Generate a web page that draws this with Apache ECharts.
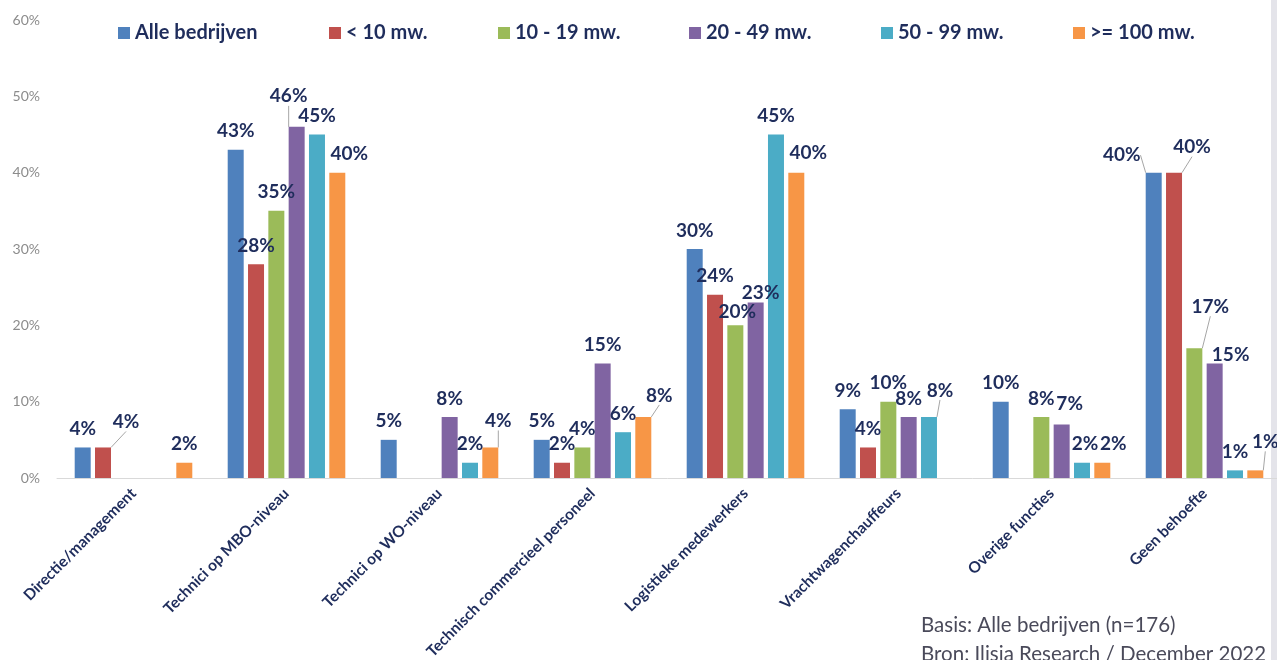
<!DOCTYPE html>
<html>
<head>
<meta charset="utf-8">
<script src="https://cdn.jsdelivr.net/npm/echarts@6/dist/echarts.min.js"></script>
<style>
html,body{margin:0;padding:0;background:#fff;}
#c{width:1277px;height:660px;}
</style>
</head>
<body>
<div id="c"></div>
<script>
var categories = ['Directie/management','Technici op MBO-niveau','Technici op WO-niveau','Technisch commercieel personeel','Logistieke medewerkers','Vrachtwagenchauffeurs','Overige functies','Geen behoefte'];
var seriesNames = ['Alle bedrijven','< 10 mw.','10 - 19 mw.','20 - 49 mw.','50 - 99 mw.','>= 100 mw.'];
var alleBedrijven = [4,43,5,5,30,9,10,40];
var lt10 = [4,28,0,2,24,4,0,40];
var mw10_19 = [0,35,0,4,20,10,8,17];
var mw20_49 = [0,46,8,15,23,8,7,15];
var mw50_99 = [0,45,2,6,45,8,2,1];
var mw100 = [2,40,4,8,40,0,2,1];
var yTicks = [0,10,20,30,40,50,60];

var allValues = [alleBedrijven, lt10, mw10_19, mw20_49, mw50_99, mw100];
var colors = ['#4f81bd','#c0504d','#9bbb59','#8064a2','#4bacc6','#f79646'];
var legendLeft = [118,329,498,689,881,1073];
// label displacement (Excel-style moved labels), keyed "series-index"
var labelMoves = {
  '1-0':[23,-7,1], '3-1':[-8,-12,1], '5-1':[12,0,0], '5-2':[8,-8,1], '5-3':[16,-3,1],
  '2-4':[2,5,0], '3-4':[5,9,0], '5-4':[12,-1,0], '4-5':[11,-8,1], '3-6':[8,-2,0],
  '4-6':[3,0,0], '5-6':[11,0,0], '0-7':[-32,1,1], '1-7':[18,-7,1], '2-7':[16,-23,1],
  '3-7':[16,10,0], '5-7':[10,-10,1]
};
var navy = '#1f2d5c';
var font = 'Lato';

var series = allValues.map(function(vals, si){
  return {
    name: seriesNames[si],
    type: 'bar',
    barWidth: 16,
    barGap: '27%',
    itemStyle: {color: colors[si]},
    data: vals.map(function(v, di){
      var m = labelMoves[si+'-'+di];
      return {value: v, labelLine: {show: !!(m && m[2])}};
    }),
    label: {
      show: true, position: 'top', distance: 9,
      fontFamily: font, fontWeight: 'bold', fontSize: 19, color: navy,
      formatter: function(p){ return p.value ? p.value + '%' : ''; }
    },
    labelLine: {show: false, lineStyle: {color: '#a6a6a6', width: 1}},
    labelLayout: function(p){
      var m = labelMoves[p.seriesIndex+'-'+p.dataIndex];
      return m ? {dx: m[0], dy: m[1]} : {};
    },
    animation: false
  };
});

var legends = seriesNames.map(function(n, i){
  return {
    data: [n], left: legendLeft[i], top: 23, padding: 0,
    itemWidth: 12, itemHeight: 12, icon: 'rect', itemGap: 0,
    textStyle: {fontFamily: font, fontWeight: 'bold', fontSize: 20, color: navy},
    selectedMode: false
  };
});

var chart = echarts.init(document.getElementById('c'));
chart.setOption({
  animation: false,
  backgroundColor: '#ffffff',
  color: colors,
  legend: legends,
  grid: {left: 57, right: -4, top: 20, bottom: 182, containLabel: false, outerBoundsMode: 'none'},
  xAxis: {
    type: 'category', data: categories,
    axisLine: {lineStyle: {color: '#d9d9d9', width: 1}},
    axisTick: {show: false},
    axisLabel: {interval: 0, rotate: 45, margin: 13, fontFamily: font, fontWeight: 'bold', fontSize: 15.5, color: navy}
  },
  yAxis: {
    type: 'value', min: yTicks[0], max: yTicks[yTicks.length-1], interval: 10,
    axisLine: {show: false}, axisTick: {show: false}, splitLine: {show: false},
    axisLabel: {formatter: '{value}%', fontFamily: font, fontSize: 14, color: '#8c8c8c', margin: 17}
  },
  graphic: [
    {type: 'rect', right: 0, top: 0, shape: {width: 6, height: 660}, style: {fill: '#e4e4ea'}, silent: true},
    {type: 'text', left: 921, top: 615, style: {text: 'Basis: Alle bedrijven (n=176)', fontFamily: font, fontSize: 20.5, fill: '#4a4a5a'}},
    {type: 'text', left: 921, top: 644, style: {text: 'Bron: Ilisia Research / December 2022', fontFamily: font, fontSize: 20.5, fill: '#4a4a5a'}}
  ],
  series: series
});
</script>
</body>
</html>
